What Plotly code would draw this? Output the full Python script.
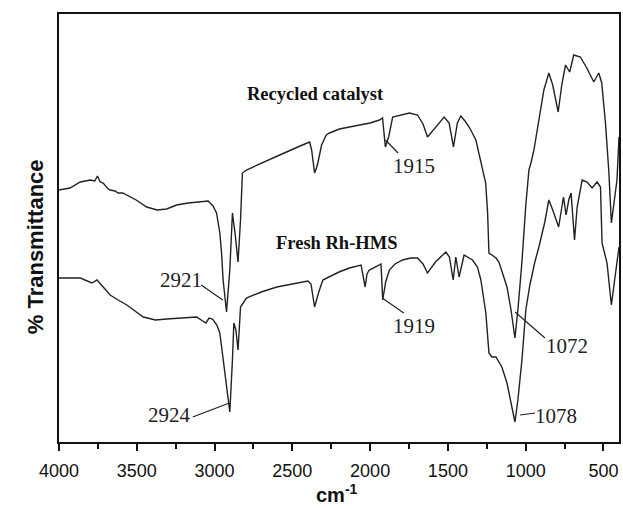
import plotly.graph_objects as go

# ---- data (wavenumber in cm-1, transmittance in arbitrary offset units) ----
recycled_wn = [4000, 3930, 3863, 3830, 3799, 3770, 3753, 3735, 3716, 3690, 3671, 3640, 3620, 3590,
               3564, 3504, 3436, 3370, 3308, 3244, 3170, 3100, 3041, 3010, 2987, 2966, 2955, 2945,
               2923, 2902, 2885, 2867, 2849, 2833, 2821, 2795, 2700, 2581, 2450, 2389, 2376, 2357,
               2345, 2336, 2312, 2282, 2261, 2197, 2100, 2000, 1940, 1920, 1902, 1881, 1855, 1801,
               1748, 1695, 1660, 1631, 1577, 1524, 1492, 1464, 1439, 1417, 1390, 1363, 1320, 1278,
               1257, 1245, 1236, 1217, 1191, 1172, 1145, 1120, 1094, 1069, 1050, 1024, 999, 979,
               966, 947, 915, 883, 851, 826, 791, 768, 744, 717, 691, 648, 607, 562, 530, 511, 487,
               466, 449, 434, 413, 400]
recycled_t = [252, 254, 260, 261, 262, 261, 266, 260, 259, 254, 252, 251, 249, 249,
              247, 242, 235, 232, 233, 237, 239, 240, 241, 236, 229, 209, 189, 162,
              130, 172, 229, 207, 180, 222, 269, 272, 279, 287, 296, 300, 292, 269,
              274, 279, 297, 307, 309, 313, 316, 319, 322, 324, 295, 305, 325, 327,
              329, 327, 318, 305, 315, 325, 319, 295, 319, 326, 321, 315, 302, 275,
              259, 230, 189, 187, 184, 180, 168, 155, 132, 104, 132, 180, 237, 272,
              279, 292, 322, 352, 369, 357, 330, 357, 377, 370, 387, 385, 374, 360, 369, 359, 319,
              272, 219, 237, 262, 305]

fresh_wn = [4000, 3930, 3863, 3789, 3756, 3716, 3671, 3620, 3564, 3458, 3380, 3308, 3200, 3115,
            3056, 3035, 3013, 2985, 2966, 2945, 2923, 2902, 2885, 2876, 2863, 2849, 2833, 2795,
            2700, 2600, 2500, 2400, 2380, 2357, 2330, 2304, 2200, 2133, 2058, 2032, 2020, 2005,
            1940, 1930, 1919, 1900, 1876, 1840, 1791, 1740, 1695, 1660, 1631, 1580, 1513, 1490,
            1466, 1449, 1428, 1396, 1342, 1310, 1288, 1256, 1236, 1217, 1191, 1153, 1120, 1094,
            1069, 1050, 1024, 999, 973, 941, 915, 877, 851, 826, 788, 757, 740, 723, 708, 686,
            669, 637, 605, 573, 541, 519, 509, 477, 449, 428, 400]
fresh_t = [164, 164, 164, 159, 162, 155, 147, 142, 137, 125, 122, 123, 124, 125,
           119, 124, 123, 117, 109, 82, 55, 30, 82, 119, 112, 92, 135, 144,
           150, 155, 158, 161, 158, 135, 150, 162, 170, 174, 177, 155, 168, 172,
           177, 178, 142, 160, 172, 178, 182, 184, 184, 178, 169, 180, 190, 185,
           162, 185, 165, 187, 182, 175, 162, 129, 89, 85, 85, 75, 59, 39,
           20, 42, 82, 132, 157, 180, 195, 220, 242, 232, 215, 245, 227, 242, 249, 202,
           235, 262, 260, 254, 260, 255, 199, 179, 137, 162, 195]

x_ticks = [4000, 3500, 3000, 2500, 2000, 1500, 1000, 500]

# peak labels: (text, text_x, text_y, line_x0, line_y0, line_x1, line_y1)
peak_labels = [
    ("1915", 1719, 276, 1901, 302, 1820, 289),
    ("2921", 3214, 162, 3086, 157, 2947, 142),
    ("2924", 3289, 27, 3140, 25, 2905, 39),
    ("1919", 1719, 116, 1922, 144, 1784, 129),
    ("1072", 733, 96, 1068, 130, 876, 104),
    ("1078", 803, 26, 1036, 27, 940, 29),
]
series_labels = [("Recycled catalyst", 2350, 348), ("Fresh Rh-HMS", 2213, 199)]

LINE = "#222222"
SERIF = "Liberation Serif, Times New Roman, serif"
SANS = "Liberation Sans, Arial, sans-serif"

fig = go.Figure()
fig.add_trace(go.Scatter(x=recycled_wn, y=recycled_t, mode="lines",
                         line=dict(color=LINE, width=1.4), name="Recycled catalyst"))
fig.add_trace(go.Scatter(x=fresh_wn, y=fresh_t, mode="lines",
                         line=dict(color=LINE, width=1.4), name="Fresh Rh-HMS"))

for txt, tx, ty, x0, y0, x1, y1 in peak_labels:
    fig.add_shape(type="line", x0=x0, y0=y0, x1=x1, y1=y1, xref="x", yref="y",
                  line=dict(color=LINE, width=1.2))
    fig.add_annotation(x=tx, y=ty, text=txt, showarrow=False, xref="x", yref="y",
                       font=dict(family=SERIF, size=21, color="#222"))

for txt, tx, ty in series_labels:
    fig.add_annotation(x=tx, y=ty, text="<b>" + txt + "</b>", showarrow=False, xref="x", yref="y",
                       font=dict(family=SERIF, size=18.5, color="#111"))

fig.add_annotation(x=0.496, y=-0.155, xref="paper", yref="paper", text="<b>cm<sup>-1</sup></b>",
                   showarrow=False, font=dict(family=SANS, size=20, color="#111"))
fig.add_annotation(x=-0.068, y=0.456, xref="paper", yref="paper", text="<b>% Transmittance</b>",
                   textangle=-90, showarrow=False, font=dict(family=SANS, size=22, color="#111"))

fig.update_layout(
    width=623, height=509,
    margin=dict(l=59, r=2, t=14, b=67),
    paper_bgcolor="white", plot_bgcolor="white",
    showlegend=False,
    xaxis=dict(range=[4000, 400], tickvals=x_ticks, ticks="outside", ticklen=7, tickwidth=1.5,
               tickcolor="#111", showline=True, linecolor="#111", linewidth=2, mirror=True,
               showgrid=False, zeroline=False, ticklabelstandoff=4,
               tickfont=dict(family=SANS, size=18, color="#111"),
               minor=dict(dtick=250, ticks="outside", ticklen=5, tickwidth=1.5, tickcolor="#111")),
    yaxis=dict(range=[0, 428], showticklabels=False, ticks="", showline=True, linecolor="#111",
               linewidth=2, mirror=True, showgrid=False, zeroline=False),
)

fig.write_html("out.html", config={"displayModeBar": False},
               post_script="document.body.style.margin='0';document.body.style.overflow='hidden';")
